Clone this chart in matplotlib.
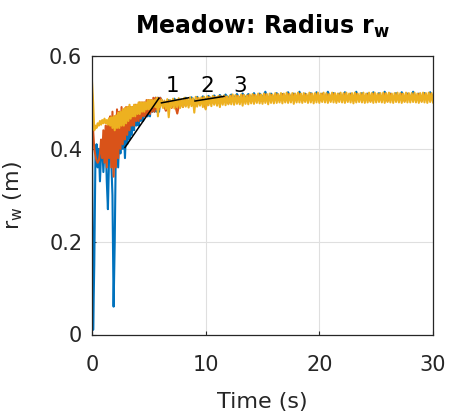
import numpy as np
import matplotlib
matplotlib.use("Agg")
import matplotlib.pyplot as plt

plt.rcParams['font.family'] = ['DejaVu Sans']

# sampling grids (s)
t_early = np.round(np.arange(0, 6.05, 0.1), 2)
t_late = np.round(np.arange(6.25, 30.01, 0.25), 2)
t_late_fine = np.round(np.arange(6.125, 30.001, 0.125), 3)

blue_early = [0.45, 0.01, 0.15, 0.38, 0.41, 0.36, 0.40, 0.33, 0.39, 0.41,
              0.35, 0.40, 0.42, 0.33, 0.27, 0.38, 0.43, 0.37, 0.30, 0.06,
              0.20, 0.41, 0.44, 0.36, 0.43, 0.39, 0.45, 0.40, 0.44, 0.38,
              0.45, 0.41, 0.46, 0.42, 0.47, 0.43, 0.47, 0.44, 0.48, 0.45,
              0.48, 0.45, 0.49, 0.46, 0.49, 0.46, 0.49, 0.47, 0.50, 0.47,
              0.50, 0.47, 0.50, 0.48, 0.50, 0.48, 0.51, 0.48, 0.51, 0.48,
              0.51]
blue_late = [0.50, 0.49, 0.505, 0.493, 0.508, 0.496, 0.506, 0.5,
             0.51, 0.5, 0.511, 0.503, 0.512, 0.502, 0.513, 0.505,
             0.514, 0.506, 0.515, 0.507, 0.516, 0.508, 0.517, 0.509,
             0.517, 0.51, 0.518, 0.508, 0.519, 0.51, 0.518, 0.509,
             0.52, 0.508, 0.519, 0.51, 0.523, 0.507, 0.519, 0.509,
             0.52, 0.51, 0.518, 0.508, 0.522, 0.509, 0.519, 0.51,
             0.523, 0.508, 0.519, 0.51, 0.52, 0.507, 0.522, 0.509,
             0.519, 0.51, 0.523, 0.508, 0.52, 0.509, 0.519, 0.51,
             0.522, 0.508, 0.519, 0.51, 0.523, 0.507, 0.52, 0.509,
             0.519, 0.51, 0.522, 0.508, 0.52, 0.509, 0.523, 0.51,
             0.519, 0.508, 0.52, 0.51, 0.522, 0.507, 0.519, 0.509,
             0.523, 0.51, 0.519, 0.508, 0.52, 0.509, 0.522, 0.51]

orange_early = [0.52, 0.44, 0.40, 0.385, 0.375, 0.37, 0.375, 0.39, 0.42, 0.38,
                0.44, 0.37, 0.45, 0.36, 0.46, 0.38, 0.47, 0.36, 0.48, 0.34,
                0.47, 0.36, 0.485, 0.38, 0.48, 0.40, 0.49, 0.41, 0.485, 0.42,
                0.49, 0.43, 0.49, 0.44, 0.49, 0.45, 0.49, 0.45, 0.495, 0.46,
                0.495, 0.46, 0.50, 0.465, 0.50, 0.47, 0.50, 0.47, 0.505, 0.475,
                0.505, 0.475, 0.505, 0.48, 0.51, 0.48, 0.51, 0.485, 0.51, 0.485,
                0.51]
orange_late = [0.498, 0.482, 0.503, 0.488, 0.5, 0.476, 0.505, 0.49,
               0.507, 0.494, 0.506, 0.49, 0.509, 0.496, 0.51, 0.487,
               0.511, 0.498, 0.512, 0.497, 0.513, 0.5, 0.512, 0.498,
               0.514, 0.501, 0.514, 0.5, 0.515, 0.502, 0.515, 0.501,
               0.516, 0.503, 0.516, 0.502, 0.517, 0.504, 0.516, 0.503,
               0.517, 0.504, 0.517, 0.503, 0.518, 0.505, 0.517, 0.504,
               0.518, 0.503, 0.517, 0.505, 0.518, 0.504, 0.517, 0.503,
               0.518, 0.505, 0.517, 0.504, 0.518, 0.503, 0.517, 0.505,
               0.518, 0.504, 0.517, 0.503, 0.518, 0.505, 0.517, 0.504,
               0.517, 0.503, 0.518, 0.505, 0.517, 0.504, 0.518, 0.503,
               0.518, 0.505, 0.517, 0.504, 0.518, 0.503, 0.517, 0.505,
               0.517, 0.504, 0.518, 0.503, 0.517, 0.505, 0.518, 0.504]

yellow_early = [0.545, 0.50, 0.44, 0.45, 0.445, 0.455, 0.45, 0.46, 0.452, 0.462,
                0.455, 0.465, 0.455, 0.462, 0.452, 0.466, 0.45, 0.468, 0.445, 0.47,
                0.44, 0.472, 0.445, 0.478, 0.445, 0.48, 0.45, 0.485, 0.45, 0.488,
                0.455, 0.49, 0.46, 0.495, 0.465, 0.49, 0.47, 0.495, 0.47, 0.495,
                0.475, 0.50, 0.475, 0.50, 0.48, 0.50, 0.48, 0.50, 0.485, 0.505,
                0.485, 0.505, 0.485, 0.505, 0.49, 0.505, 0.49, 0.51, 0.47, 0.505,
                0.49]
yellow_late = [0.506, 0.488, 0.504, 0.486, 0.507, 0.468, 0.505, 0.489, 0.508, 0.487, 0.506, 0.49, 0.509, 0.488, 0.507, 0.49,
               0.51, 0.491, 0.508, 0.489, 0.511, 0.492, 0.509, 0.478, 0.512, 0.491, 0.51, 0.493, 0.511, 0.49, 0.512, 0.485,
               0.513, 0.494, 0.511, 0.492, 0.514, 0.495, 0.512, 0.493, 0.514, 0.49, 0.513, 0.495, 0.515, 0.494, 0.513, 0.496,
               0.515, 0.496, 0.517, 0.495, 0.516, 0.497, 0.514, 0.496, 0.517, 0.493, 0.516, 0.497, 0.515, 0.496, 0.517, 0.498,
               0.518, 0.497, 0.516, 0.499, 0.519, 0.498, 0.517, 0.497, 0.519, 0.499, 0.518, 0.496, 0.519, 0.499, 0.517, 0.498,
               0.52, 0.499, 0.518, 0.5, 0.52, 0.498, 0.519, 0.5, 0.521, 0.499, 0.518, 0.5, 0.52, 0.497, 0.519, 0.5,
               0.521, 0.5, 0.519, 0.499, 0.52, 0.501, 0.518, 0.499, 0.521, 0.5, 0.519, 0.498, 0.52, 0.5, 0.521, 0.499,
               0.519, 0.501, 0.521, 0.5, 0.52, 0.499, 0.518, 0.501, 0.521, 0.5, 0.52, 0.499, 0.519, 0.501, 0.521, 0.5,
               0.52, 0.499, 0.521, 0.501, 0.519, 0.5, 0.52, 0.498, 0.521, 0.5, 0.519, 0.501, 0.52, 0.5, 0.521, 0.499,
               0.519, 0.5, 0.521, 0.501, 0.52, 0.499, 0.521, 0.5, 0.519, 0.501, 0.52, 0.5, 0.521, 0.499, 0.52, 0.501,
               0.521, 0.5, 0.519, 0.499, 0.52, 0.501, 0.521, 0.5, 0.52, 0.499, 0.519, 0.501, 0.521, 0.5, 0.52, 0.5,
               0.52, 0.501, 0.521, 0.5, 0.519, 0.499, 0.52, 0.501, 0.521, 0.5, 0.52, 0.499, 0.521, 0.501, 0.52, 0.5]

series = [
    (np.concatenate([t_early, t_late]), blue_early + blue_late, '#0072BD'),
    (np.concatenate([t_early, t_late]), orange_early + orange_late, '#D95319'),
    (np.concatenate([t_early, t_late_fine]), yellow_early + yellow_late, '#EDB120'),
]

# annotation segments (t, r) and labels
ann_segments = [((2.9, 0.403), (5.89, 0.509)),
                ((6.11, 0.499), (8.49, 0.510)),
                ((9.06, 0.503), (11.61, 0.513))]
ann_labels = ['1', '2', '3']
ann_label_pos = [(7.1, 0.536), (10.1, 0.536), (13.0, 0.536)]

x_ticks = [0, 10, 20, 30]
y_ticks = [0, 0.2, 0.4, 0.6]
y_ticklabels = ['0', '0.2', '0.4', '0.6']

fig = plt.figure(figsize=(4.52, 4.18), dpi=100)
ax = fig.add_axes([92 / 452, 1 - 334.5 / 418, (433 - 92) / 452, (334.5 - 56) / 418])

for tt, vals, c in series:
    ax.plot(tt, vals, color=c, lw=1.5, solid_joinstyle='round')

for (p0, p1) in ann_segments:
    ax.plot([p0[0], p1[0]], [p0[1], p1[1]], color='black', lw=1.1)
for lab, (x, y) in zip(ann_labels, ann_label_pos):
    ax.text(x, y, lab, fontsize=15.5, ha='center', va='center', color='black')

ax.set_xlim(0, 30)
ax.set_ylim(0, 0.6)
ax.set_xticks(x_ticks)
ax.set_yticks(y_ticks)
ax.set_yticklabels(y_ticklabels)
ax.grid(True, color='#dfdfdf', lw=0.8)
ax.set_axisbelow(True)
for s in ax.spines.values():
    s.set_color('#262626')
    s.set_linewidth(0.9)
ax.tick_params(direction='in', length=3, width=0.8, colors='#262626',
               labelsize=15)
ax.tick_params(axis='x', pad=15)
ax.tick_params(axis='y', pad=7)
ax.set_xlabel('Time (s)', fontsize=16, color='#262626', labelpad=12)
ax.set_ylabel(r'r$_\mathregular{w}$ (m)', fontsize=16, color='#262626', labelpad=17)
ax.set_title(r'Meadow: Radius r$_\mathbf{w}$', fontsize=17, fontweight='bold',
             color='black', pad=16)

fig.savefig('out.png', dpi=100)
